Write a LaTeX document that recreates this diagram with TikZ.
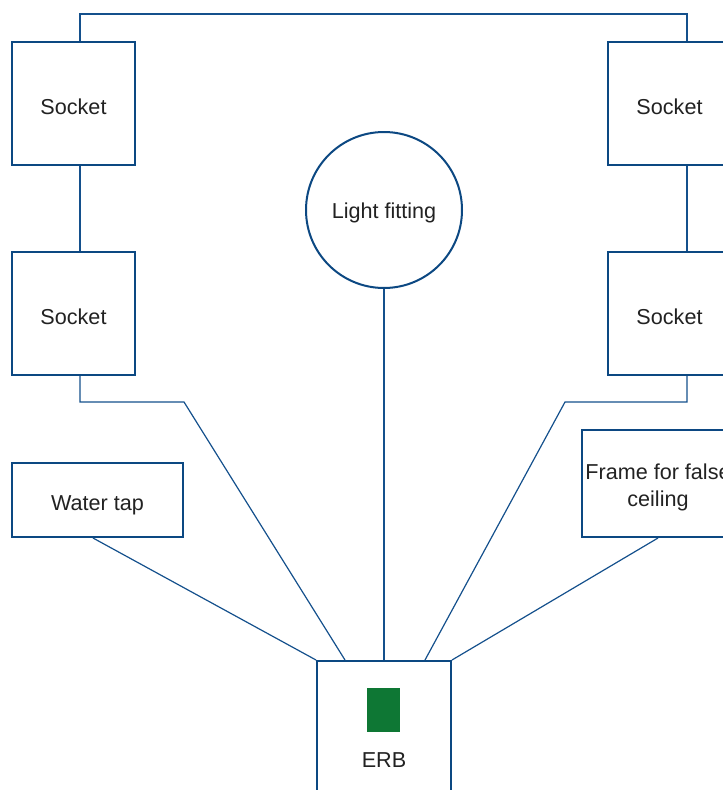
\documentclass[tikz,border=0pt]{standalone}
\usepackage{fontspec}
\setmainfont{Liberation Sans}
\definecolor{bblue}{RGB}{12,72,130}
\definecolor{lblue}{RGB}{20,80,140}
\definecolor{egreen}{RGB}{14,119,52}
\definecolor{txt}{RGB}{34,34,34}
\newcommand{\lowtext}[2][3pt]{\raisebox{-#1}[\height][\depth]{#2}}
\begin{document}
\begin{tikzpicture}[x=1pt,y=-1pt,
  box/.style={draw=bblue,line width=2pt,fill=white,inner sep=2pt,text=txt,font=\fontsize{21.6}{26}\selectfont,align=center},
  conn/.style={draw=lblue,line width=1.2pt}]
\useasboundingbox (0,0) rectangle (723,790);
% nodes
\node[box,minimum width=123pt,minimum height=123pt] (s1) at (73.5,103.5) {\lowtext{Socket}};
\node[box,minimum width=123pt,minimum height=123pt] (s2) at (73.5,313.5) {\lowtext{Socket}};
\node[box,minimum width=123pt,minimum height=123pt] (s3) at (669.5,103.5) {\lowtext{Socket}};
\node[box,minimum width=123pt,minimum height=123pt] (s4) at (669.5,313.5) {\lowtext{Socket}};
\node[box,circle,minimum size=156pt] (light) at (384,210) {\lowtext{Light fitting}};
\node[box,minimum width=171pt,minimum height=74pt] (tap) at (97.5,500) {\lowtext[5pt]{Water tap}};
\node[box,minimum width=152pt,minimum height=107pt] (frame) at (658,483.5) {\lowtext[4pt]{\begin{tabular}{@{}c@{}}Frame for false\\[1pt]ceiling\end{tabular}}};
\node[box,minimum width=134pt,minimum height=140pt] (erb) at (384,731) {};
\node[fill=egreen,minimum width=33pt,minimum height=44pt,inner sep=0pt] (grn) at (383.5,710) {};
\node[text=txt,font=\fontsize{21.6}{26}\selectfont] (erbl) at (384,760) {ERB};
% bend points
\coordinate (bl) at (184,402);
\coordinate (br) at (565,402);
% connectors
\draw[conn] ([xshift=6.5pt]s1.north) -- ++(0,-27) -| ([xshift=17.5pt]s3.north);
\draw[conn] ([xshift=6.5pt]s1.south) -- ([xshift=6.5pt]s2.north);
\draw[conn] ([xshift=17.5pt]s3.south) -- ([xshift=17.5pt]s4.north);
\draw[conn] ([xshift=6.5pt]s2.south) |- (bl) -- ([xshift=-39pt]erb.north);
\draw[conn] ([xshift=17.5pt]s4.south) |- (br) -- ([xshift=41pt]erb.north);
\draw[conn] (light.south) -- (erb.north);
\draw[conn] ([xshift=-4.5pt]tap.south) -- (erb.north west);
\draw[conn] (frame.south) -- (erb.north east);
\end{tikzpicture}
\end{document}
